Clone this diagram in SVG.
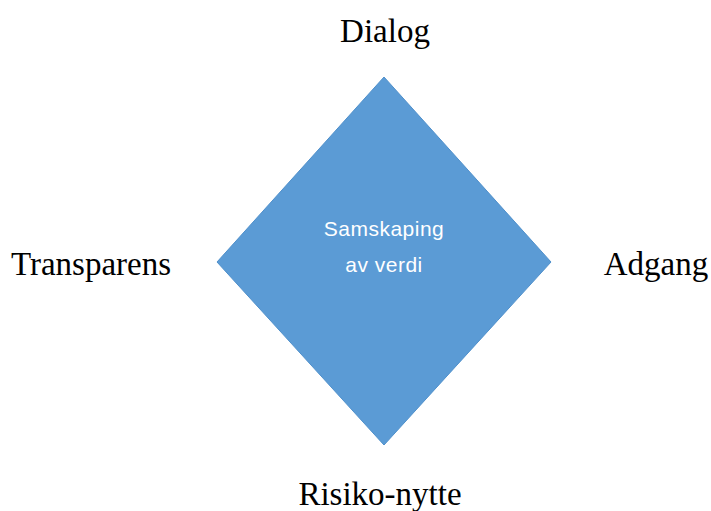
<svg xmlns="http://www.w3.org/2000/svg" width="711" height="511" viewBox="0 0 711 511">
<style>
.lbl{font-family:"Liberation Serif","Times New Roman",serif;font-size:33px;fill:#000;text-anchor:middle}
.inner{font-family:"Liberation Sans",Arial,sans-serif;font-size:21px;fill:#fff;text-anchor:middle;letter-spacing:0.5px}
</style>
<rect width="711" height="511" fill="#fff"/>
<g id="diamond">
<polygon points="384,77 551,262 384,445 217,262" fill="#5B9BD5" stroke="#5090CB" stroke-width="1"/>
<text class="inner" x="384" y="236">Samskaping</text>
<text class="inner" x="384" y="272">av verdi</text>
</g>
<g id="dialog"><text class="lbl" x="385" y="42">Dialog</text></g>
<g id="transparens"><text class="lbl" x="91" y="275">Transparens</text></g>
<g id="adgang"><text class="lbl" x="656" y="275">Adgang</text></g>
<g id="risiko"><text class="lbl" x="380" y="505">Risiko-nytte</text></g>
<g id="connectors"/>
</svg>
